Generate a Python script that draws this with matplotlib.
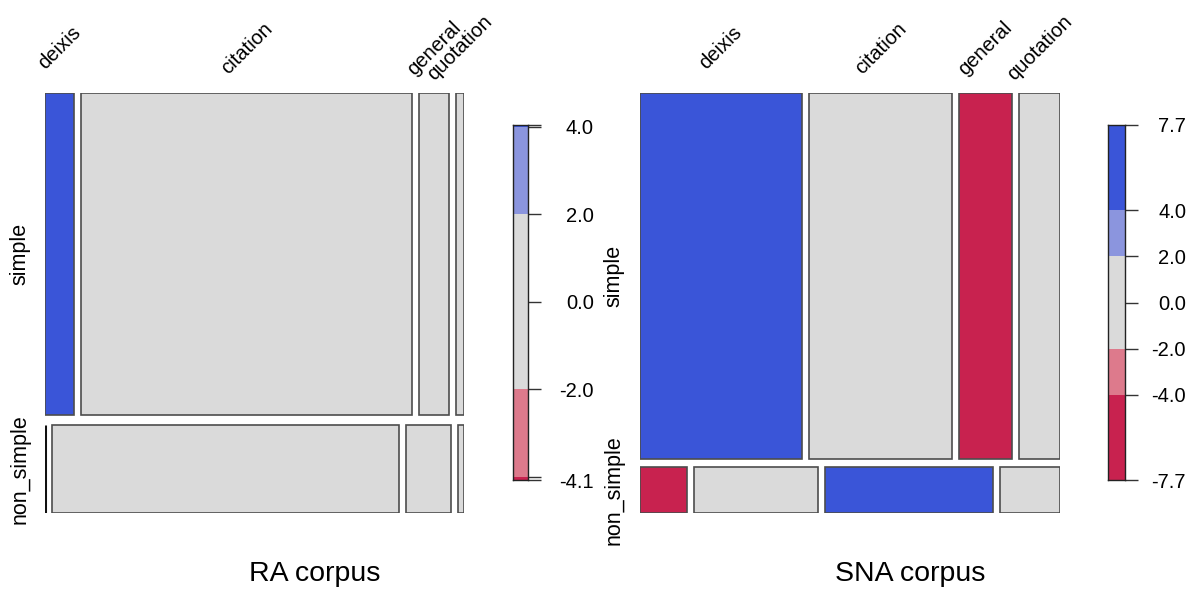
import matplotlib
matplotlib.use('Agg')
import matplotlib.pyplot as plt
from matplotlib.patches import Rectangle
import numpy as np

plt.rcParams['font.family'] = ['Liberation Sans', 'DejaVu Sans']

# ---------------- data ----------------
categories = ['deixis', 'citation', 'general', 'quotation']
row_labels = ['simple', 'non_simple']

# RA corpus counts (rows: simple, non_simple)
ra_simple = [53, 611, 55, 15]
ra_non_simple = [0, 175, 23, 3]
# Pearson residuals used for shading
ra_resid_simple = [4.04, -0.6, -0.3, 0.2]
ra_resid_non_simple = [-4.08, 1.0, 0.6, -0.4]
ra_legend_range = [-4.08, 4.04]

# SNA corpus counts
sna_simple = [383, 338, 125, 97]
sna_non_simple = [14, 37, 50, 18]
sna_resid_simple = [5.2, -0.4, -4.6, 0.3]
sna_resid_non_simple = [-7.7, 1.1, 7.7, -0.8]
sna_legend_range = [-7.7, 7.7]

titles = ['RA corpus', 'SNA corpus']

# shading bins
cuts = [-4, -2, 2, 4]
shade_colors = ['#C8224F', '#DD7A8C', '#DADADA', '#8B95DE', '#3A55D8']


def shade(r):
    return shade_colors[int(np.searchsorted(cuts, r))]


W, H = 1195, 591
fig = plt.figure(figsize=(W / 100, H / 100), dpi=100)


def px_axes(x0, y0, x1, y1):
    return fig.add_axes([x0 / W, 1 - y1 / H, (x1 - x0) / W, (y1 - y0) / H])


def mosaic(ax, counts, resid, gap_x, gap_y, label_dx):
    counts = np.array(counts, float)
    N = counts.sum()
    row_tot = counts.sum(axis=1)
    nr, nc = counts.shape
    avail_y = 1 - gap_y * (nr - 1)
    avail_x = 1 - gap_x * (nc - 1)
    y = 0.0
    for i in range(nr):
        h = avail_y * row_tot[i] / N
        x = 0.0
        for j in range(nc):
            w = avail_x * counts[i, j] / row_tot[i]
            if w == 0:
                ax.plot([x, x], [y, y + h], color='#111111', lw=2.2,
                        solid_capstyle='butt')
            else:
                ax.add_patch(Rectangle((x, y), w, h, facecolor=shade(resid[i][j]),
                                       edgecolor='#4D4D4D', lw=1.2))
            if i == 0:
                ax.text(x + w / 2, -0.107, categories[j], rotation=45,
                        ha='center', va='center', fontsize=14.5, clip_on=False)
            x += w + gap_x
        ax.text(label_dx, y + h / 2, row_labels[i], rotation=90, ha='center',
                va='center', fontsize=15.5, clip_on=False)
        y += h + gap_y
    ax.set_xlim(0, 1)
    ax.set_ylim(1, 0)
    ax.axis('off')


def legend(ax, rng, ticks, labels, pad_pt):
    lo, hi = rng
    edges = [lo] + [c for c in cuts if lo < c < hi] + [hi]
    for a, b in zip(edges[:-1], edges[1:]):
        ax.bar(0, b - a, bottom=a, width=1, color=shade((a + b) / 2),
               edgecolor='none')
    ax.set_xlim(-0.5, 0.5)
    ax.set_ylim(lo, hi)
    ax.set_xticks([])
    ax.yaxis.tick_right()
    ax.set_yticks(ticks)
    ax.set_yticklabels(labels)
    ax.tick_params(axis='y', length=9.5, width=1, color='#333333', pad=pad_pt,
                   labelsize=14.5)
    for t in ax.get_yticklabels():
        t.set_horizontalalignment('right')
    for s in ax.spines.values():
        s.set_linewidth(1)
        s.set_color('#222222')


# RA mosaic
ax1 = px_axes(45, 93, 464, 513)
mosaic(ax1, [ra_simple, ra_non_simple], [ra_resid_simple, ra_resid_non_simple],
       7 / 419, 10 / 420, -25 / 419)

# SNA mosaic
ax2 = px_axes(640, 93, 1060, 513)
mosaic(ax2, [sna_simple, sna_non_simple], [sna_resid_simple, sna_resid_non_simple],
       7 / 420, 8 / 420, -26 / 420)

# legends
lg1 = px_axes(513, 125, 528, 480)
lo, hi = ra_legend_range
legend(lg1, ra_legend_range, [lo, -4, -2, 0, 2, 4, hi],
       [f'{lo:.1f}', '', '-2.0', '0.0', '2.0', '4.0', ''], 38)

lg2 = px_axes(1108, 125, 1125, 480)
lo, hi = sna_legend_range
legend(lg2, sna_legend_range, [lo, -4, -2, 0, 2, 4, hi],
       [f'{lo:.1f}', '-4.0', '-2.0', '0.0', '2.0', '4.0', f'{hi:.1f}'], 34.5)

# titles
fig.text(315 / W, 1 - 581 / H, titles[0], ha='center', va='baseline', fontsize=20.5)
fig.text(910 / W, 1 - 581 / H, titles[1], ha='center', va='baseline', fontsize=20.5)

fig.savefig('out.png', dpi=100)
